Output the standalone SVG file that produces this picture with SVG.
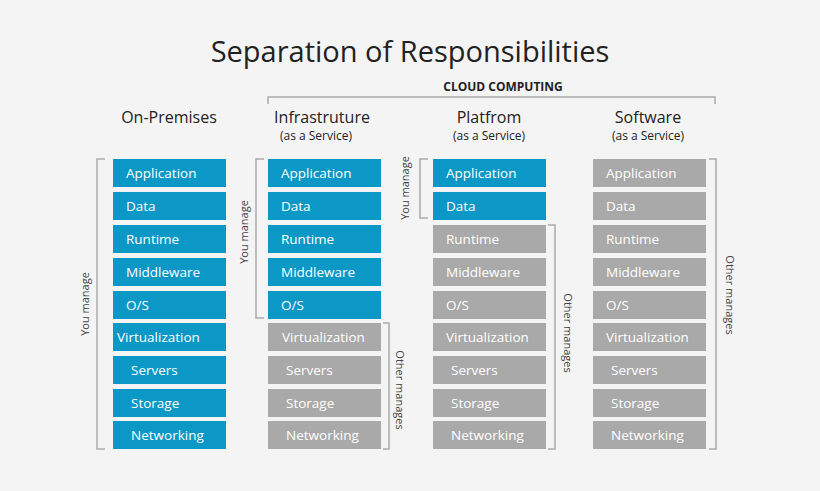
<svg xmlns="http://www.w3.org/2000/svg" width="820" height="491" viewBox="0 0 820 491">
<style>
text{font-family:"Open Sans","Liberation Sans",sans-serif}
.b{fill:#0b98c6}.g{fill:#a9a9a9}
.t{fill:#fff;font-size:13.5px}
.h{fill:#222;font-size:16px;text-anchor:middle}
.s{fill:#222;font-size:12px;text-anchor:middle}
.l{fill:#444;font-size:11px;text-anchor:middle}
.br{fill:none;stroke:#aaa;stroke-width:1.5}
</style>
<rect width="820" height="491" fill="#f4f4f4"/>
<text x="410" y="62" text-anchor="middle" font-size="29" fill="#222">Separation of Responsibilities</text>
<g id="cloud"><path class="br" d="M268,104V97H715V104"/><text x="503" y="91" text-anchor="middle" font-size="12" font-weight="bold" fill="#222">CLOUD COMPUTING</text></g>
<g id="headers">
<text class="h" x="169" y="123">On-Premises</text>
<text class="h" x="322" y="123">Infrastruture</text><text class="s" x="316" y="140">(as a Service)</text>
<text class="h" x="489" y="123">Platfrom</text><text class="s" x="489" y="140">(as a Service)</text>
<text class="h" x="648" y="123">Software</text><text class="s" x="648" y="140">(as a Service)</text>
</g>
<g id="onprem">
<rect class="b" x="113" y="159" width="113" height="28"/><text class="t" x="126" y="177.5">Application</text>
<rect class="b" x="113" y="192" width="113" height="28"/><text class="t" x="126" y="210.5">Data</text>
<rect class="b" x="113" y="225" width="113" height="28"/><text class="t" x="126" y="243.5">Runtime</text>
<rect class="b" x="113" y="258" width="113" height="28"/><text class="t" x="126" y="276.5">Middleware</text>
<rect class="b" x="113" y="291" width="113" height="28"/><text class="t" x="126" y="309.5">O/S</text>
<rect class="b" x="113" y="323" width="113" height="28"/><text class="t" x="117" y="341.5">Virtualization</text>
<rect class="b" x="113" y="356" width="113" height="28"/><text class="t" x="131" y="374.5">Servers</text>
<rect class="b" x="113" y="389" width="113" height="28"/><text class="t" x="131" y="407.5">Storage</text>
<rect class="b" x="113" y="421" width="113" height="28"/><text class="t" x="131" y="439.5">Networking</text>
</g>
<g id="iaas">
<rect class="b" x="268" y="159" width="113" height="28"/><text class="t" x="281" y="177.5">Application</text>
<rect class="b" x="268" y="192" width="113" height="28"/><text class="t" x="281" y="210.5">Data</text>
<rect class="b" x="268" y="225" width="113" height="28"/><text class="t" x="281" y="243.5">Runtime</text>
<rect class="b" x="268" y="258" width="113" height="28"/><text class="t" x="281" y="276.5">Middleware</text>
<rect class="b" x="268" y="291" width="113" height="28"/><text class="t" x="281" y="309.5">O/S</text>
<rect class="g" x="268" y="323" width="113" height="28"/><text class="t" x="282" y="341.5">Virtualization</text>
<rect class="g" x="268" y="356" width="113" height="28"/><text class="t" x="286" y="374.5">Servers</text>
<rect class="g" x="268" y="389" width="113" height="28"/><text class="t" x="286" y="407.5">Storage</text>
<rect class="g" x="268" y="421" width="113" height="28"/><text class="t" x="286" y="439.5">Networking</text>
</g>
<g id="paas">
<rect class="b" x="433" y="159" width="113" height="28"/><text class="t" x="446" y="177.5">Application</text>
<rect class="b" x="433" y="192" width="113" height="28"/><text class="t" x="446" y="210.5">Data</text>
<rect class="g" x="433" y="225" width="113" height="28"/><text class="t" x="446" y="243.5">Runtime</text>
<rect class="g" x="433" y="258" width="113" height="28"/><text class="t" x="446" y="276.5">Middleware</text>
<rect class="g" x="433" y="291" width="113" height="28"/><text class="t" x="446" y="309.5">O/S</text>
<rect class="g" x="433" y="323" width="113" height="28"/><text class="t" x="446" y="341.5">Virtualization</text>
<rect class="g" x="433" y="356" width="113" height="28"/><text class="t" x="451" y="374.5">Servers</text>
<rect class="g" x="433" y="389" width="113" height="28"/><text class="t" x="451" y="407.5">Storage</text>
<rect class="g" x="433" y="421" width="113" height="28"/><text class="t" x="451" y="439.5">Networking</text>
</g>
<g id="saas">
<rect class="g" x="593" y="159" width="113" height="28"/><text class="t" x="606" y="177.5">Application</text>
<rect class="g" x="593" y="192" width="113" height="28"/><text class="t" x="606" y="210.5">Data</text>
<rect class="g" x="593" y="225" width="113" height="28"/><text class="t" x="606" y="243.5">Runtime</text>
<rect class="g" x="593" y="258" width="113" height="28"/><text class="t" x="606" y="276.5">Middleware</text>
<rect class="g" x="593" y="291" width="113" height="28"/><text class="t" x="606" y="309.5">O/S</text>
<rect class="g" x="593" y="323" width="113" height="28"/><text class="t" x="606" y="341.5">Virtualization</text>
<rect class="g" x="593" y="356" width="113" height="28"/><text class="t" x="611" y="374.5">Servers</text>
<rect class="g" x="593" y="389" width="113" height="28"/><text class="t" x="611" y="407.5">Storage</text>
<rect class="g" x="593" y="421" width="113" height="28"/><text class="t" x="611" y="439.5">Networking</text>
</g>
<g id="brackets">
<path class="br" d="M105,159H97V449H105"/><text class="l" transform="translate(89,304) rotate(-90)">You manage</text>
<path class="br" d="M264,159H256V318H264"/><text class="l" transform="translate(248,232) rotate(-90)">You manage</text>
<path class="br" d="M383,323H389V449H383"/><text class="l" transform="translate(396,390) rotate(90)">Other manages</text>
<path class="br" d="M428,159H420V218H428"/><text class="l" transform="translate(409,188) rotate(-90)">You manage</text>
<path class="br" d="M548,225H555V449H548"/><text class="l" transform="translate(564,333) rotate(90)">Other manages</text>
<path class="br" d="M709,159H716V449H709"/><text class="l" transform="translate(726,295) rotate(90)">Other manages</text>
</g>
</svg>
